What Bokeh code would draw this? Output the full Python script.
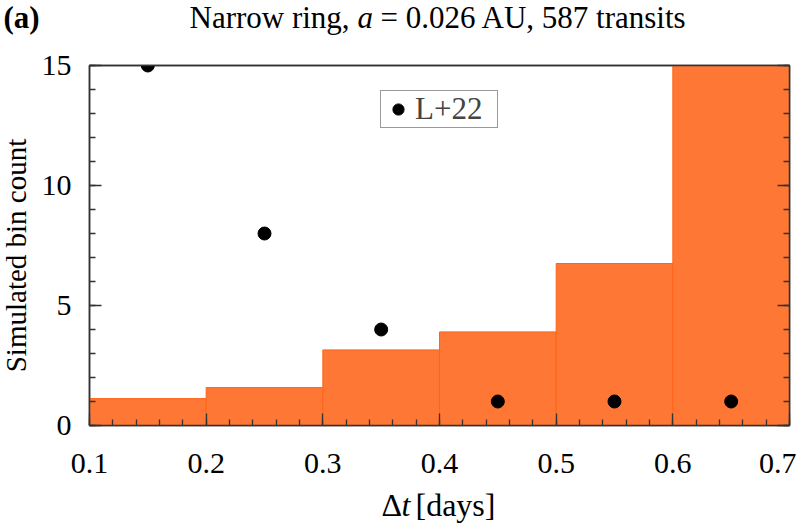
import math
from bokeh.plotting import figure
from bokeh.layouts import column
from bokeh.models import (Range1d, LinearAxis, FixedTicker, Label, Legend, LegendItem,
                          CustomJSTickFormatter)
from bokeh.embed import file_html
from bokeh.resources import INLINE

# ---- data ----
bin_left = [0.1, 0.2, 0.3, 0.4, 0.5, 0.6]
bin_right = [0.2, 0.3, 0.4, 0.5, 0.6, 0.7]
sim_counts = [1.12, 1.58, 3.15, 3.9, 6.75, 15.0]
obs_dt = [0.15, 0.25, 0.35, 0.45, 0.55, 0.65]
obs_counts = [15, 8, 4, 1, 1, 1]
x_ticks = [0.1, 0.2, 0.3, 0.4, 0.5, 0.6, 0.7]
y_ticks = [0, 5, 10, 15]

FONT = "Liberation Serif"
W = 796
TOP_H, MAIN_H, BOT_H = 46, 442, 38
# frame box in page px
L, R, T, B = 89, 789, 65, 425
SHIFT = 10  # measured vertical offset of labels inside the text strips


def strip(h):
    s = figure(width=W, height=h, output_backend="svg", toolbar_location=None,
               x_range=Range1d(0, W), y_range=Range1d(h, 0), min_border=0,
               x_axis_type=None, y_axis_type=None, title=None)
    s.frame_align = False
    s.outline_line_color = None
    s.grid.visible = False
    s.background_fill_color = "white"
    s.border_fill_color = "white"
    return s


def slab(fig, text, x, y, size, style="normal"):
    fig.add_layout(Label(x=x, y=y - SHIFT, text=text, text_font=FONT,
                         text_font_size=size, text_font_style=style,
                         text_align="left", text_baseline="alphabetic",
                         text_color="black"))


# ---- title strip ----
top = strip(TOP_H)
slab(top, "(a)", 3, 27, "31px", "bold")
slab(top, "Narrow ring,", 189, 27, "31px")
slab(top, "a", 357, 27, "31px", "italic")
slab(top, "= 0.026 AU, 587 transits", 380, 27, "31px")

# ---- main plot ----
p = figure(width=W, height=MAIN_H, output_backend="svg", toolbar_location=None,
           x_range=Range1d(0.1, 0.7), y_range=Range1d(0, 15),
           min_border_left=L, min_border_right=W - R, min_border_top=T - TOP_H,
           min_border_bottom=MAIN_H - (B - TOP_H))
p.frame_align = False
p.xgrid.visible = False
p.ygrid.visible = False
p.outline_line_color = "#333333"
p.outline_line_width = 1.5
p.background_fill_color = "white"
p.border_fill_color = "white"

p.quad(left=bin_left, right=bin_right, bottom=0, top=sim_counts,
       fill_color="#FE7735", line_color="#FF6418", line_width=1)
pts = p.scatter(obs_dt, obs_counts, size=13, color="black")

blank = CustomJSTickFormatter(code="return ''")


def style_axis(ax, ticks, minor, labels=True):
    ax.ticker = FixedTicker(ticks=ticks, minor_ticks=minor)
    ax.axis_line_color = "#333333"
    ax.axis_line_width = 1.5
    ax.major_tick_in = 12
    ax.major_tick_out = 0
    ax.minor_tick_in = 6
    ax.minor_tick_out = 0
    ax.major_tick_line_color = "#333333"
    ax.minor_tick_line_color = "#333333"
    ax.major_tick_line_width = 1.3
    ax.minor_tick_line_width = 1.3
    if labels:
        ax.major_label_text_font = FONT
        ax.major_label_text_font_size = "30px"
        ax.major_label_text_color = "black"
    else:
        ax.formatter = blank
        ax.major_label_standoff = 0


x_minor = [round(0.1 + 0.02 * i, 2) for i in range(31)]
y_minor = list(range(0, 16))

xa = p.xaxis[0]
style_axis(xa, x_ticks, x_minor)
xa.major_label_standoff = 28
ya = p.yaxis[0]
style_axis(ya, y_ticks, y_minor)
ya.major_label_standoff = 18

ra = LinearAxis()
style_axis(ra, y_ticks, y_minor, labels=False)
p.add_layout(ra, "right")
ta = LinearAxis()
style_axis(ta, x_ticks, [], labels=False)
ta.major_tick_in = 0
ta.minor_tick_in = 0
p.add_layout(ta, "above")


def fx(px):
    return 0.1 + (px - L) * 0.6 / (R - L)


def fy(py):
    return (B - py) * 15.0 / (B - T)


# y axis label (in the left panel, so it is not clipped)
p.add_layout(Label(x=fx(15), y=fy(255), text="Simulated bin count", text_font=FONT,
                   text_font_size="29px", text_align="center",
                   text_baseline="middle", angle=math.pi / 2,
                   text_color="black"), "left")

legend = Legend(items=[LegendItem(label="L+22", renderers=[pts])],
                location=(291, 297), label_text_font=FONT,
                label_text_font_size="31px", border_line_color="#333333",
                border_line_width=1.2, padding=0, margin=0, glyph_width=34,
                glyph_height=28, label_standoff=0, label_width=82,
                background_fill_alpha=1)
p.add_layout(legend, "center")

# ---- x label strip ----
bot = strip(BOT_H)
base = TOP_H + MAIN_H
slab(bot, "\u0394", 381, 514 - base, "32px")
slab(bot, "t", 401, 514 - base, "32px", "italic")
slab(bot, "[days]", 415, 514 - base, "32px")

layout = column(top, p, bot, spacing=0)
open("out.html", "w").write(file_html(layout, INLINE))
